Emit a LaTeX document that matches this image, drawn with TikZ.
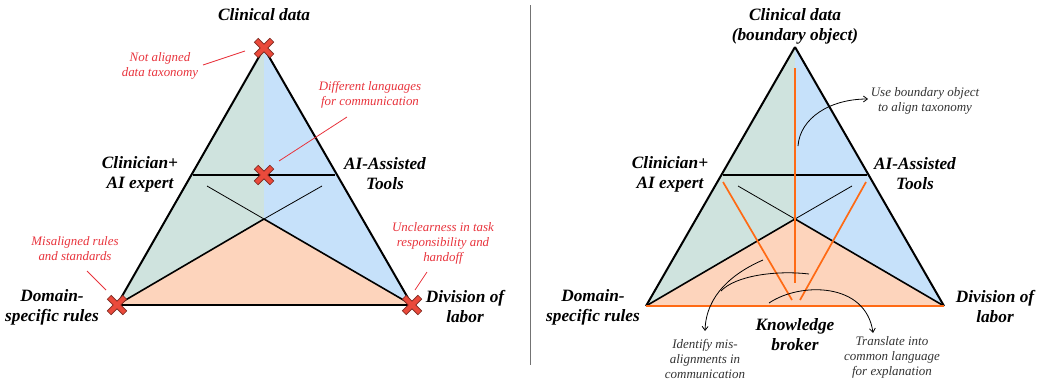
\documentclass[tikz,border=0pt]{standalone}
\usepackage{fontspec}
\setmainfont{Liberation Serif}
\usetikzlibrary{arrows.meta}
\definecolor{fgreen}{HTML}{CFE3DE}
\definecolor{fblue}{HTML}{C6E1FA}
\definecolor{fpeach}{HTML}{FDD4BC}
\definecolor{xred}{HTML}{EA4A3B}
\definecolor{xdark}{HTML}{7A241C}
\definecolor{nred}{HTML}{E8333C}
\definecolor{brokor}{HTML}{FF6A14}
\definecolor{ngray}{HTML}{333333}
\begin{document}
\begin{tikzpicture}[x=1pt,y=-1pt,
  lbl/.style={font=\fontsize{17.3}{20}\selectfont\bfseries\itshape, align=center, text=black, inner sep=0pt},
  rnote/.style={font=\fontsize{12.9}{15}\selectfont\itshape, align=center, text=nred, inner sep=0pt},
  gnote/.style={font=\fontsize{13}{15}\selectfont\itshape, align=center, text=ngray, inner sep=0pt},
  tedge/.style={line width=2pt, black},
  inner/.style={line width=1.6pt, black},
  thin/.style={line width=0.8pt, black},
  hline/.style={line width=2.2pt, black},
  rline/.style={line width=0.8pt, nred},
  oline/.style={line width=1.7pt, brokor},
  garrow/.style={line width=0.8pt, black, -{Straight Barb[length=4pt,width=6pt]}},
  gline/.style={line width=0.8pt, black},
  xmark/.pic={
    \draw[line width=6.2pt, xdark] (-8,-8)--(8,8) (-8,8)--(8,-8);
    \draw[line width=4.4pt, xred] (-7.5,-7.5)--(7.5,7.5) (-7.5,7.5)--(7.5,-7.5);
  }]
\useasboundingbox (0,0) rectangle (1044,383);

% ---------------- left triangle ----------------
\coordinate (A1) at (264,48);
\coordinate (L1) at (117,305);
\coordinate (R1) at (412,305);
\coordinate (C1) at (264,219);
\coordinate (H1l) at (193,175);
\coordinate (H1r) at (335,175);
\coordinate (T1l) at (207,186);
\coordinate (T1r) at (322,186);

\fill[fgreen] (A1) -- (L1) -- (C1) -- cycle;
\fill[fblue] (A1) -- (C1) -- (R1) -- cycle;
\fill[fpeach] (L1) -- (C1) -- (R1) -- cycle;

\draw[tedge] (A1) -- (L1);
\draw[tedge] (A1) -- (R1);
\draw[tedge] (L1) -- (R1);
\draw[inner] (L1) -- (C1);
\draw[inner] (R1) -- (C1);
\draw[thin] (C1) -- (T1l);
\draw[thin] (C1) -- (T1r);
\draw[hline] (H1l) -- (H1r);

\pic at (A1) {xmark};
\pic at (264,175) {xmark};
\pic at (L1) {xmark};
\pic at (R1) {xmark};

\node[lbl] (cd1) at (264,15) {Clinical data};
\node[lbl] (ce1) at (140,174) {Clinician+\\AI expert};
\node[lbl] (ai1) at (385,174) {AI-Assisted\\Tools};
\node[lbl] (dr1) at (52,307) {Domain-\\specific rules};
\node[lbl] (dl1) at (465,307) {Division of\\labor};

\node[rnote] (n1) at (160,66) {Not aligned\\data taxonomy};
\node[rnote] (n2) at (370,95) {Different languages\\for communication};
\node[rnote] (n3) at (75,249) {Misaligned rules\\and standards};
\node[rnote] (n4) at (443,243) {Unclearness in task\\responsibility and\\handoff};

\coordinate (n1a) at (203,65); \coordinate (n1b) at (245,51);
\coordinate (n2a) at (347,117); \coordinate (n2b) at (279,161);
\coordinate (n3a) at (87,271); \coordinate (n3b) at (106,290);
\coordinate (n4a) at (427,272); \coordinate (n4b) at (415,290);
\draw[rline] (n1a) -- (n1b);
\draw[rline] (n2a) -- (n2b);
\draw[rline] (n3a) -- (n3b);
\draw[rline] (n4a) -- (n4b);

% divider
\coordinate (d1) at (530,5); \coordinate (d2) at (530,365);
\draw[line width=0.6pt, black!55] (d1) -- (d2);

% ---------------- right triangle ----------------
\coordinate (A2) at (795,47);
\coordinate (L2) at (646,306);
\coordinate (R2) at (944,306);
\coordinate (C2) at (795,219);
\coordinate (H2l) at (723,175);
\coordinate (H2r) at (867,175);
\coordinate (T2l) at (738,186);
\coordinate (T2r) at (852,186);

\fill[fgreen] (A2) -- (L2) -- (C2) -- cycle;
\fill[fblue] (A2) -- (C2) -- (R2) -- cycle;
\fill[fpeach] (L2) -- (C2) -- (R2) -- cycle;

\draw[tedge] (A2) -- (L2);
\draw[tedge] (A2) -- (R2);
\draw[inner] (L2) -- (C2);
\draw[inner] (R2) -- (C2);
\draw[thin] (C2) -- (T2l);
\draw[thin] (C2) -- (T2r);
\draw[hline] (H2l) -- (H2r);

% knowledge broker lines
\coordinate (ov1) at (795,68); \coordinate (ov2) at (795,283);
\coordinate (ol1) at (792,300); \coordinate (ol2) at (723,182);
\coordinate (or1) at (800,300); \coordinate (or2) at (866,182);
\draw[oline] (ov1) -- (ov2);
\draw[oline] (ol1) -- (ol2);
\draw[oline] (or1) -- (or2);
\draw[line width=2.6pt, brokor] (L2) -- (R2);

\node[lbl] (cd2) at (795,26) {Clinical data\\(boundary object)};
\node[lbl] (ce2) at (670,174) {Clinician+\\AI expert};
\node[lbl] (ai2) at (915,174) {AI-Assisted\\Tools};
\node[lbl] (dr2) at (593,307) {Domain-\\specific rules};
\node[lbl] (dl2) at (995,307) {Division of\\labor};
\node[lbl] (kb) at (795,335) {Knowledge\\broker};

\node[gnote] (g1) at (925,101) {Use boundary object\\to align taxonomy};
\node[gnote] (g2) at (705,359) {Identify mis-\\alignments in\\communication};
\node[gnote] (g3) at (892,357) {Translate into\\common language\\for explanation};

\coordinate (b1) at (798,146); \coordinate (b2) at (868,99);
\draw[garrow] (b1) .. controls (800,118) and (830,99) .. (b2);

\coordinate (i1) at (763,260); \coordinate (i2) at (705,331);
\coordinate (i3) at (809,274); \coordinate (i4) at (721,291);
\draw[garrow] (i1) .. controls (733,273) and (706,295) .. (i2);
\draw[gline] (i3) .. controls (775,270) and (735,276) .. (i4);

\coordinate (t1) at (769,303); \coordinate (t2) at (873,333);
\draw[garrow] (t1) .. controls (800,282) and (866,282) .. (t2);
\end{tikzpicture}
\end{document}
